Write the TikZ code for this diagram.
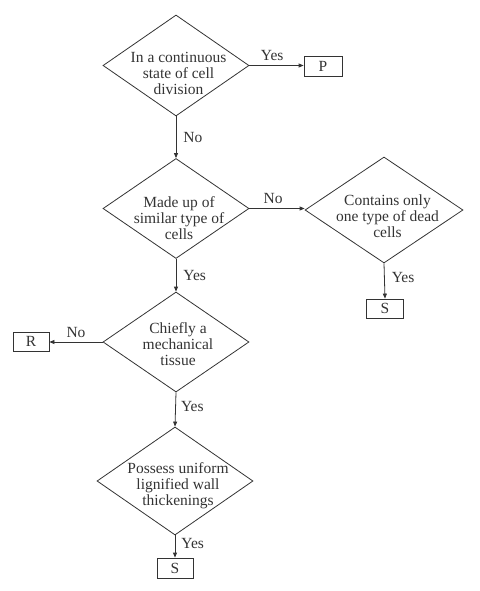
\documentclass[tikz,border=0pt]{standalone}
\usepackage{fontspec}
\setmainfont{Liberation Serif}
\usetikzlibrary{shapes.geometric,arrows.meta}
\definecolor{ink}{HTML}{333333}
\tikzset{
  dia/.style={diamond, draw=ink, line width=0.8pt, inner sep=0pt, aspect=1.45},
  txt/.style={align=center, inner sep=0pt, text=ink, font=\fontsize{15.5}{16}\selectfont},
  lbl/.style={inner sep=0pt, text=ink, font=\fontsize{15.5}{16}\selectfont},
  boxn/.style={draw=ink, line width=0.8pt, inner sep=0pt, text=ink, font=\fontsize{15.5}{16}\selectfont},
  arr/.style={draw=ink, line width=0.8pt, -{Triangle[length=5pt,width=4pt]}}
}
\begin{document}
\begin{tikzpicture}[x=1pt,y=-1pt]
\useasboundingbox (0,0) rectangle (479,591);
% diamonds
\node[dia, minimum width=146, minimum height=101] (d1) at (176,65.5) {};
\node[txt] (t1) at (178.5,73) {In a continuous\\state of cell\\division};
\node[dia, minimum width=146, minimum height=100] (d2) at (176,208.5) {};
\node[txt] (t2) at (179,218) {Made up of\\similar type of\\cells};
\node[dia, minimum width=158, minimum height=106] (d3) at (384,210) {};
\node[txt] (t3) at (387.5,216) {Contains only\\one type of dead\\cells};
\node[dia, minimum width=146, minimum height=100] (d4) at (176,342) {};
\node[txt] (t4) at (178,344) {Chiefly a\\mechanical\\tissue};
\node[dia, minimum width=156, minimum height=108] (d5) at (175,481) {};
\node[txt] (t5) at (178,486) {Possess uniform\\lignified wall\\thickenings};
% boxes
\node[boxn, minimum width=38, minimum height=20] (p) at (323,66.5) {P};
\node[boxn, minimum width=37, minimum height=19] (s1) at (385,308.5) {S};
\node[boxn, minimum width=36, minimum height=19] (r) at (31,341.5) {R};
\node[boxn, minimum width=36, minimum height=20] (s2) at (175,568) {S};
% connectors
\draw[arr] (d1.east) -- node[lbl, pos=0.42, above=4pt] {Yes} (d1.east -| p.west);
\draw[arr] (d1.south) -- node[lbl, midway, right=7pt] {No} (d2.north);
\draw[arr] (d2.east) -- node[lbl, pos=0.43, above=4pt] {No} (d2.east -| d3.west);
\draw[arr] (d2.south) -- node[lbl, midway, right=7pt] {Yes} (d4.north);
\draw[arr] (d3.south) -- node[lbl, pos=0.4, right=7pt] {Yes} (s1.north);
\draw[arr] (d4.west) -- node[lbl, midway, above=4pt] {No} (d4.west -| r.east);
\draw[arr] (d4.south) -- node[lbl, pos=0.4, right=5pt] {Yes} (d5.north);
\draw[arr] (d5.south) -- node[lbl, pos=0.35, right=6pt] {Yes} (s2.north);
\end{tikzpicture}
\end{document}
